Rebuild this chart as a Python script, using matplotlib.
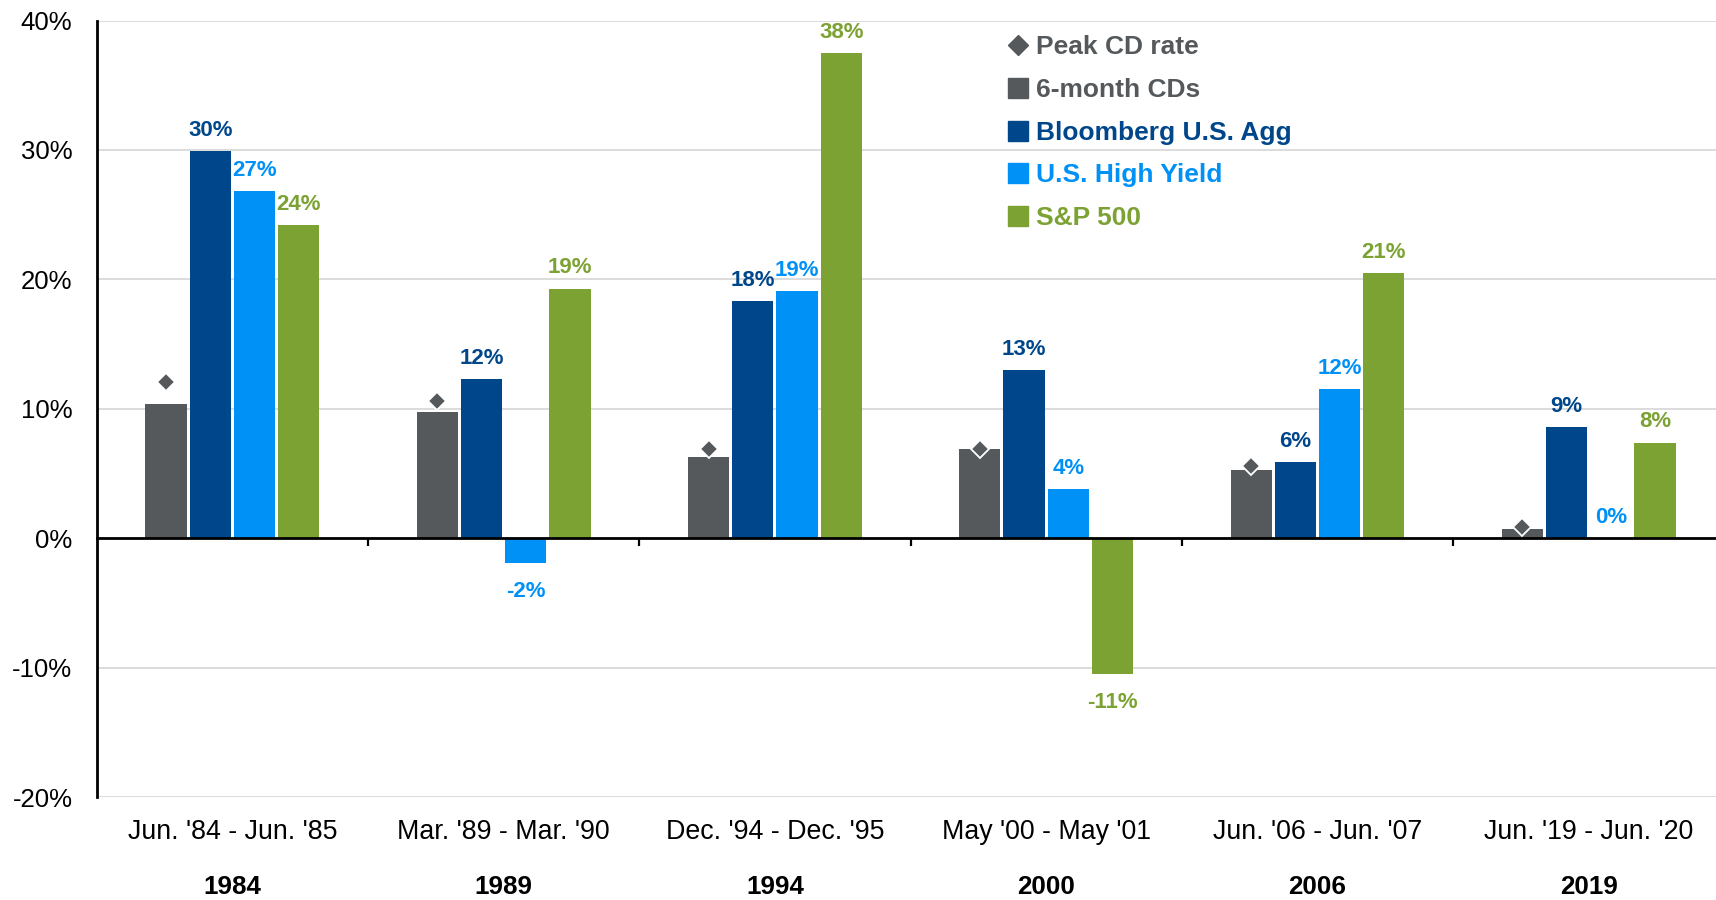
import matplotlib
matplotlib.use('Agg')
import matplotlib.pyplot as plt
from matplotlib.lines import Line2D
from matplotlib.transforms import blended_transform_factory
import numpy as np

plt.rcParams['font.family'] = ['Liberation Sans', 'DejaVu Sans']

# ---- data ----
categories = ["Jun. '84 - Jun. '85", "Mar. '89 - Mar. '90", "Dec. '94 - Dec. '95",
              "May '00 - May '01", "Jun. '06 - Jun. '07", "Jun. '19 - Jun. '20"]
years = ['1984', '1989', '1994', '2000', '2006', '2019']
peak_cd = [12.1, 10.6, 6.9, 6.9, 5.6, 0.9]
cd_6m = [10.4, 9.8, 6.3, 6.9, 5.3, 0.7]
agg = [29.9, 12.3, 18.3, 13.0, 5.9, 8.6]
high_yield = [26.8, -1.9, 19.1, 3.8, 11.5, 0.0]
sp500 = [24.2, 19.3, 37.5, -10.5, 20.5, 7.4]
agg_labels = ['30%', '12%', '18%', '13%', '6%', '9%']
hy_labels = ['27%', '-2%', '19%', '4%', '12%', '0%']
sp_labels = ['24%', '19%', '38%', '-11%', '21%', '8%']
legend_labels = ['Peak CD rate', '6-month CDs', 'Bloomberg U.S. Agg', 'U.S. High Yield', 'S&P 500']
y_ticks = [-20, -10, 0, 10, 20, 30, 40]

# ---- style ----
GRAY = '#55595C'
NAVY = '#00468B'
LBLUE = '#0091F7'
GREEN = '#7BA232'

fig = plt.figure(figsize=(17.16, 9.0), dpi=100)
ax = fig.add_axes([0.05635, 0.1141, 0.94365, 0.8631])

x = np.arange(len(years))
pitch = 0.163
width = 0.152
series = [(cd_6m, GRAY), (agg, NAVY), (high_yield, LBLUE), (sp500, GREEN)]
for k, (vals, col) in enumerate(series):
    ax.bar(x + (k - 1.5) * pitch, vals, width, color=col, edgecolor='none', zorder=2)

ax.plot(x - 1.5 * pitch, peak_cd, ls='none', marker='D', ms=9, mfc=GRAY, mec='white',
        mew=1.3, zorder=4)

for k, (vals, labels, col) in enumerate([(agg, agg_labels, NAVY),
                                          (high_yield, hy_labels, LBLUE),
                                          (sp500, sp_labels, GREEN)]):
    for xi, v, lab in zip(x + (k - 0.5) * pitch, vals, labels):
        off = 15 if v >= 0 else -20.5
        ax.annotate(lab, (xi, v), xytext=(0, off), textcoords='offset points',
                    ha='center', va='center', fontsize=16, fontweight='bold', color=col,
                    zorder=5)

ax.set_xlim(-0.5, 5.469)
ax.set_ylim(-20, 40)
ax.set_yticks(y_ticks)
ax.set_yticklabels([f'{t}%' for t in y_ticks], fontsize=18.5, color='black')
ax.tick_params(axis='y', length=0, pad=17.5)
ax.yaxis.grid(True, color='#D6D6D6', lw=1.2, zorder=0)
ax.set_axisbelow(True)

ax.spines['top'].set_visible(False)
ax.spines['right'].set_visible(False)
ax.spines['left'].set_color('black')
ax.spines['left'].set_linewidth(2)
ax.spines['bottom'].set_position(('data', 0))
ax.spines['bottom'].set_color('black')
ax.spines['bottom'].set_linewidth(2)
ax.spines['bottom'].set_zorder(3)
ax.set_xticks(x[:-1] + 0.5)
ax.tick_params(axis='x', length=6, width=1.6, direction='out', labelbottom=False, color='black')

trans = blended_transform_factory(ax.transData, ax.transAxes)
for xi, cat, yr in zip(x, categories, years):
    ax.text(xi, -0.0443, cat, transform=trans, ha='center', va='center', fontsize=19.3,
            color='black')
    ax.text(xi, -0.116, yr, transform=trans, ha='center', va='center', fontsize=18.7,
            fontweight='bold', color='black')

handles = [Line2D([], [], ls='none', marker='D', ms=10, mfc=GRAY, mec=GRAY),
           Line2D([], [], ls='none', marker='s', ms=14, mfc=GRAY, mec=GRAY),
           Line2D([], [], ls='none', marker='s', ms=14, mfc=NAVY, mec=NAVY),
           Line2D([], [], ls='none', marker='s', ms=14, mfc=LBLUE, mec=LBLUE),
           Line2D([], [], ls='none', marker='s', ms=14, mfc=GREEN, mec=GREEN)]
leg = ax.legend(handles, legend_labels, loc='upper left', bbox_to_anchor=(0.562, 0.981),
                frameon=False, prop={'size': 19, 'weight': 'bold'}, handlelength=0.82,
                handletextpad=0.3, labelspacing=0.71, borderaxespad=0, borderpad=0)
for t, c in zip(leg.get_texts(), [GRAY, GRAY, NAVY, LBLUE, GREEN]):
    t.set_color(c)

fig.savefig('out.png', dpi=100)
